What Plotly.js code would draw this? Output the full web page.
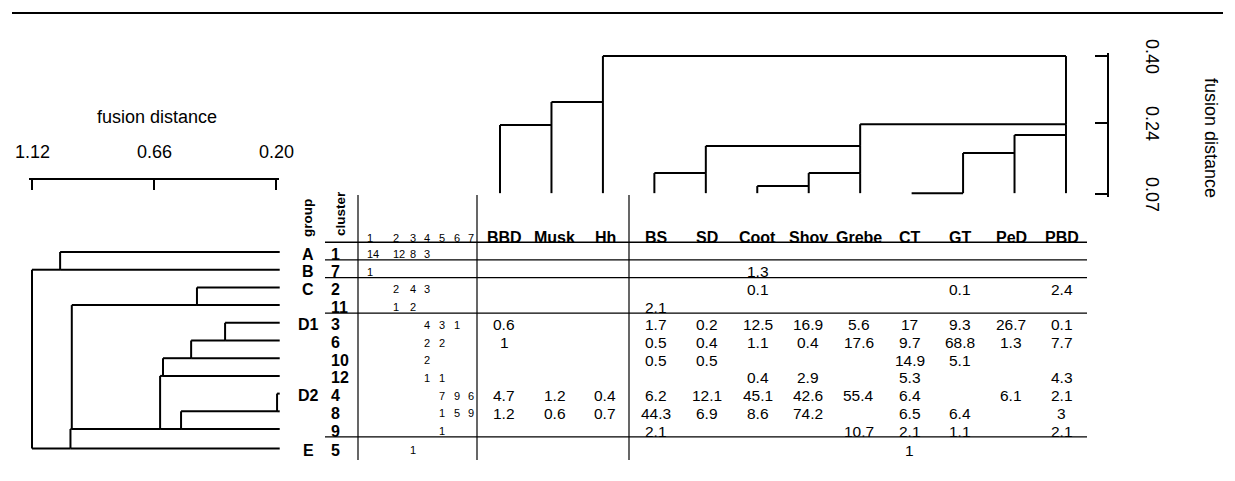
<!DOCTYPE html>
<html><head><meta charset="utf-8">
<script src="https://cdn.plot.ly/plotly-3.0.1.min.js"></script>
<style>html,body{margin:0;padding:0;background:#fff}#chart{width:1235px;height:481px}</style>
</head><body><div id="chart"></div>
<script>
// ---------------- data ----------------
const clusters    = ["1","7","2","11","3","6","10","12","4","8","9","5"];
const groups      = ["A","B","C","","D1","","","","D2","","","E"];
const majorGroups = ["A","B","C","C","D","D","D","D","D","D","D","E"];
const countHeads  = ["1","2","3","4","5","6","7"];
const counts = [
  [14,12,8,3,null,null,null],
  [1,null,null,null,null,null,null],
  [null,2,4,3,null,null,null],
  [null,1,2,null,null,null,null],
  [null,null,null,4,3,1,null],
  [null,null,null,2,2,null,null],
  [null,null,null,2,null,null,null],
  [null,null,null,1,1,null,null],
  [null,null,null,null,7,9,6],
  [null,null,null,null,1,5,9],
  [null,null,null,null,1,null,null],
  [null,null,1,null,null,null,null]
];
const species = ["BBD","Musk","Hh","BS","SD","Coot","Shov","Grebe","CT","GT","PeD","PBD"];
const values = [
  [null,null,null,null,null,null,null,null,null,null,null,null],
  [null,null,null,null,null,1.3,null,null,null,null,null,null],
  [null,null,null,null,null,0.1,null,null,null,0.1,null,2.4],
  [null,null,null,2.1,null,null,null,null,null,null,null,null],
  [0.6,null,null,1.7,0.2,12.5,16.9,5.6,17,9.3,26.7,0.1],
  [1,null,null,0.5,0.4,1.1,0.4,17.6,9.7,68.8,1.3,7.7],
  [null,null,null,0.5,0.5,null,null,null,14.9,5.1,null,null],
  [null,null,null,null,null,0.4,2.9,null,5.3,null,null,4.3],
  [4.7,1.2,0.4,6.2,12.1,45.1,42.6,55.4,6.4,null,6.1,2.1],
  [1.2,0.6,0.7,44.3,6.9,8.6,74.2,null,6.5,6.4,null,3],
  [null,null,null,2.1,null,null,null,10.7,2.1,1.1,null,2.1],
  [null,null,null,null,null,null,null,null,1,null,null,null]
];
// left dendrogram (clusters, leaves = rows above); node ids continue after leaves
const leftLeafH  = 0.186;
const leftMergeA = [0,2,4,14,15,8,17,16,13,20,12];
const leftMergeB = [1,3,5,6,7,9,10,18,19,11,21];
const leftMergeH = [1.014,0.498,0.392,0.520,0.626,0.196,0.558,0.637,0.970,0.975,1.12];
const leftTicks  = [1.12,0.66,0.20];
// top dendrogram (species)
const topLeafH  = 0.072;
const topMergeA = [0,12,3,5,15,14,8,18,19,17,13];
const topMergeB = [1,2,4,6,7,16,9,10,11,20,21];
const topMergeH = [0.235,0.290,0.120,0.089,0.120,0.185,0.072,0.168,0.211,0.237,0.400];
const topTicks  = [0.07,0.24,0.40];
const axisTitle = "fusion distance";

// ---------------- layout constants ----------------
const W = 1235, H = 481;
const px = x => x / W, py = y => 1 - y / H;
const FONT = "Liberation Sans, Arial, Helvetica, sans-serif";
const L = {
  countX: [366,392,409,423,438,453,467],
  speciesX0: 504, speciesDX: 50.7,
  groupX: 308, clusterX: 330,
  headerRow: -0.93,
  textShift: -2
};
const rowPos = clusters.map((c,i) => i === clusters.length - 1 ? i + 0.1 : i);

function dendro(nLeaves, mA, mB, mH, leafH, leafPos) {
  const pos = leafPos.slice(), ht = new Array(nLeaves).fill(leafH);
  const P = [], Hs = [];
  mA.forEach((a,k) => {
    const b = mB[k], h = mH[k];
    [a,b].forEach(c => { P.push(pos[c],pos[c],null); Hs.push(ht[c],h,null); });
    P.push(pos[a],pos[b],null); Hs.push(h,h,null);
    pos.push(Math.max(pos[a],pos[b])); ht.push(h);
  });
  return {P,Hs};
}
const dLeft = dendro(clusters.length, leftMergeA, leftMergeB, leftMergeH, leftLeafH, rowPos);
const dTop = dendro(species.length, topMergeA, topMergeB, topMergeH, topLeafH, species.map((s,i)=>i));

const lineStyle = {color:'#000', width:2};
const traces = [
  {type:'scatter', mode:'lines', x:dLeft.Hs, y:dLeft.P, xaxis:'x3', yaxis:'y3', line:lineStyle, hoverinfo:'skip'},
  {type:'scatter', mode:'lines', x:dTop.P, y:dTop.Hs, xaxis:'x2', yaxis:'y2', line:lineStyle, hoverinfo:'skip'},
  {type:'scatter', mode:'lines', x:[null], y:[null], xaxis:'x', yaxis:'y3', hoverinfo:'skip'},
  {type:'scatter', mode:'lines', x:[null], y:[null], xaxis:'x2', yaxis:'y4', hoverinfo:'skip'}
];

const ann = [];
function txt(o) { ann.push(Object.assign({showarrow:false, borderpad:0, xanchor:'center', yanchor:'middle'}, o)); }
const fReg = s => ({family:FONT, size:s, color:'#000'});
const fBold = s => ({family:FONT, size:s, color:'#000', weight:700});

// axis tick labels and titles
leftTicks.forEach(t => txt({xref:'x', yref:'paper', x:t, y:py(152), text:t.toFixed(2), font:fReg(18)}));
txt({xref:'paper', yref:'paper', x:px(157), y:py(117), text:axisTitle, font:fReg(18)});
topTicks.forEach(t => txt({xref:'paper', yref:'y4', x:px(1152), y:t, text:t.toFixed(2), textangle:90, font:fReg(18)}));
txt({xref:'paper', yref:'paper', x:px(1211), y:py(138), text:axisTitle, textangle:90, font:fReg(18)});

// table headers
txt({xref:'paper', yref:'paper', x:px(307), y:py(218), text:'group', textangle:-90, font:fBold(13.5)});
txt({xref:'paper', yref:'paper', x:px(341), y:py(213), text:'cluster', textangle:-90, font:fBold(13.5)});
countHeads.forEach((h,j) => txt({xref:'paper', yref:'y3', x:px(L.countX[j]), xanchor:'left', y:L.headerRow, yshift:L.textShift, text:h, font:fReg(11)}));
species.forEach((s,j) => txt({xref:'paper', yref:'y3', x:px(L.speciesX0 + L.speciesDX*j), y:L.headerRow, yshift:L.textShift, text:s, font:fBold(16)}));

// table body
clusters.forEach((c,i) => {
  const r = rowPos[i];
  if (groups[i]) txt({xref:'paper', yref:'y3', x:px(L.groupX), y:r, yshift:L.textShift, text:groups[i], font:fBold(16)});
  txt({xref:'paper', yref:'y3', x:px(L.clusterX), xanchor:'left', y:r, yshift:L.textShift, text:c, font:fBold(16)});
  counts[i].forEach((v,j) => { if (v !== null) txt({xref:'paper', yref:'y3', x:px(L.countX[j]), xanchor:'left', y:r, yshift:L.textShift, text:String(v), font:fReg(11)}); });
  values[i].forEach((v,j) => { if (v !== null) txt({xref:'paper', yref:'y3', x:px(L.speciesX0 + L.speciesDX*j), y:r, yshift:L.textShift, text:String(v), font:fReg(15.5)}); });
});

// table rules: header rule + group boundaries
const shapes = [];
const hRule = (r, w) => shapes.push({type:'line', xref:'paper', yref:'y3', x0:px(325), x1:px(1087), y0:r, y1:r, line:{color:'#000', width:w}});
hRule(-0.55, 1.5);
majorGroups.forEach((g,i) => { if (i < majorGroups.length-1 && majorGroups[i+1] !== g) hRule(rowPos[i] + 0.45, 1.2); });
[358,477,629].forEach(x => shapes.push({type:'line', xref:'paper', yref:'paper', x0:px(x), x1:px(x), y0:py(195), y1:py(460), line:{color:'#000', width:1.2}}));
shapes.push({type:'line', xref:'paper', yref:'paper', x0:px(12), x1:px(1223), y0:py(13), y1:py(13), line:{color:'#000', width:2}});

// brackets: axis line runs a few px past the end ticks (Plotly drops inside ticks at the very ends)
const hidden = {visible:false, showgrid:false, zeroline:false, fixedrange:true};
const bracket = {showline:true, linecolor:'#000', linewidth:1.5, ticks:'inside', tickwidth:1.5, tickcolor:'#000',
                 showticklabels:false, showgrid:false, zeroline:false, fixedrange:true, anchor:'free'};
const ext = 3;
const layout = {
  width:W, height:H, margin:{l:0,r:0,t:0,b:0},
  paper_bgcolor:'#fff', plot_bgcolor:'rgba(0,0,0,0)', showlegend:false,
  font:{family:FONT, color:'#000'},
  xaxis:Object.assign({domain:[px(32-ext),px(276+ext)], range:[1.12 + ext/265.2, 0.20 - ext/265.2], position:py(178), side:'top',
         ticklen:10, tickvals:leftTicks}, bracket),
  xaxis2:Object.assign({domain:[px(480),px(1090)], range:[-0.389,11.467]}, hidden),
  xaxis3:Object.assign({domain:[px(28),px(290)], range:[1.1351,0.1472]}, hidden),
  yaxis2:Object.assign({domain:[py(200),py(50)], range:[0.0556,0.4145], anchor:'x2'}, hidden),
  yaxis3:Object.assign({domain:[py(462),py(170)], range:[11.864,-4.633], anchor:'x3'}, hidden),
  yaxis4:Object.assign({domain:[py(194+ext),py(56-ext)], range:[0.07 - ext/418, 0.40 + ext/418], position:px(1107), side:'right',
          ticklen:12, tickvals:topTicks}, bracket),
  annotations:ann, shapes:shapes
};
Plotly.newPlot('chart', traces, layout, {displayModeBar:false, staticPlot:true});
</script></body></html>
